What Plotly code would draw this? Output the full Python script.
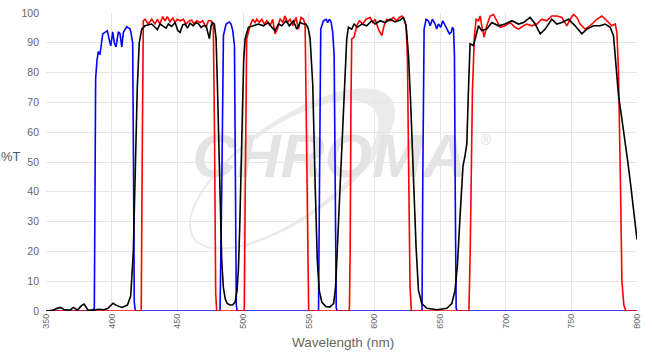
import numpy as np
import plotly.graph_objects as go

# ---------------- data ----------------
blue_wl = [350, 385, 386.8, 387.8, 388.8, 389.8, 391.1, 393.2, 394.9, 396.7, 398.2, 399.3, 400.8, 402, 403.3,
           405.1, 406.4, 407.7, 408.9, 410.5, 411.5, 412.7, 414, 414.7, 416, 416.6, 417.2, 418,
           482.5, 483.8, 485.1, 487.1, 489.6, 490.9, 492.2, 493.5, 494.2, 494.9, 495.6,
           557.5, 558.2, 559.2, 561.2, 563.3, 564.5, 565.8, 567.1, 568.3, 569.4, 570.1, 571, 571.7,
           636.3, 636.9, 637.9, 639.4, 641.2, 642.5, 644.2, 646.3, 647.5, 648.8, 650.6, 652.1, 653.9, 655.7,
           657.2, 658.5, 659.5, 660.3, 661, 661.6, 662.3, 663, 800]
blue_t = [0, 0, 1, 78, 84, 87, 86, 93, 93.5, 94, 91, 89, 93.7, 90, 88.6,
          93.7, 93, 88.6, 93.5, 95, 95.4, 95, 94.7, 93.4, 90, 50, 3, 0,
          0, 40, 92.4, 96.3, 97, 96.3, 94.1, 89, 55, 2, 0,
          0, 40, 94.6, 97.4, 97.9, 96.8, 97.9, 97, 93.5, 85.9, 50, 1, 0,
          0, 45, 94.6, 97.9, 97.4, 95.7, 97.9, 96.3, 94.6, 96.3, 95.2, 97.4, 95.7, 94.1,
          93, 93.5, 95.2, 94.6, 85.9, 40, 1, 0, 0]

red_wl = [350, 422.5, 423.4, 424.1, 425.4, 427.9, 430.5, 433, 434.8, 436.8, 438.9, 440.6, 442.4, 444.4, 446.5,
          448.3, 450, 452.1, 454.6, 456.6, 459.2, 460.9, 462.7, 464.8, 467.3, 469.3, 471.9, 473.6, 475.7, 477.4,
          478.3, 479.2, 480,
          501, 501.7, 502.3, 502.8, 505.4, 507.4, 509.2, 510.5, 512.5, 514.3, 516.3, 518.1, 520.6, 522.6, 524.4,
          526.2, 528.2, 530.3, 532, 533.8, 535.8, 537.9, 540.4, 542.2, 544.2, 546, 547.3, 548.5, 549.3, 550,
          581, 581.6, 582.2, 582.8, 584.6, 586.6, 588.6, 591.2, 593.7, 596.8, 598.8, 600.6, 603.1, 605.7, 607.4,
          609.5, 612, 614.5, 617.1, 619.1, 620.9, 622.7, 624.2, 625.2, 626.2, 627.2, 628.2,
          672, 673, 674.2, 674.7, 676.2, 677.5, 679.3, 680.6, 681.8, 683.6, 685.6, 688.2, 690.7, 693.3, 695.8,
          699.6, 703.4, 707.2, 709.8, 713.6, 716.1, 719.9, 723.7, 727.5, 731.3, 735.1, 739, 742.8, 746.6, 749.1,
          751.7, 754.2, 756.7, 760.5, 764.3, 769.4, 773.2, 777.1, 780.8, 783.4, 784.7, 785.9, 786.7, 787.4,
          788.5, 790, 791.5, 800]
red_t = [0, 0, 60, 97.4, 97.9, 96.3, 97.9, 96.3, 97.9, 96.3, 98.8, 97.4, 98.8, 97, 98.3,
         96.8, 97.9, 97.4, 97.9, 96.3, 97.4, 97.6, 96.3, 97.4, 96.8, 97.4, 95.2, 97.4, 97.4, 95.7,
         60, 6, 0,
         0, 40, 85, 91.3, 95.7, 97.9, 96.8, 97.9, 96.8, 97.9, 96.3, 97.4, 95.7, 97.9, 93,
         94.6, 98.1, 96.8, 99, 96.8, 97.9, 95.7, 98.5, 94.6, 98.5, 97.9, 96.3, 50, 5, 0,
         0, 20, 70, 91.3, 91.9, 95.7, 97.4, 96.3, 97.9, 98.5, 96.8, 97.9, 94.6, 92.4, 95.7,
         97.9, 97.4, 98.5, 97.4, 98.5, 99, 97.9, 95.7, 85, 45, 8, 0,
         0, 20, 62.8, 73.8, 92.4, 97.9, 97.4, 99, 95.7, 91.9, 95.7, 99, 99.5, 97.4, 95.2,
         95.7, 96.8, 95.2, 94.6, 95.7, 96.3, 95.7, 96.3, 97.9, 97.4, 99, 99, 98.5, 95.7, 97.9,
         99.5, 98.5, 96.3, 94.6, 95.7, 97.9, 99, 97.4, 95.7, 96.3, 93.5, 80.4, 62.8, 43,
         10, 2, 0, 0]

black_wl = [350, 355, 358, 361, 364, 368, 371, 374, 377, 379, 382, 386, 390, 394, 397, 401, 404, 408, 412,
            414.5, 416.5, 418, 419.5, 421, 422.9, 425.4, 427.9, 430.5, 433, 434.8, 436.8, 438.9, 441.4, 443.2,
            445.7, 448.3, 450.3, 452.1, 454.1, 455.9, 457.7, 459.7, 462.2, 464.2, 466.3, 468.1, 469.8, 471.9,
            473.1, 474.4, 475.7, 476.9, 478.2, 479.5,
            480.5, 481.5, 482.5, 483.8, 485, 486.5, 488, 490, 492, 494, 495.5, 496.5, 497.5, 498.5, 499.5, 500.5,
            501.6, 504.1, 507.9, 511.7, 515.5, 519.3, 521.9, 524.4, 527, 529.5, 532.8, 535.3, 538.4, 540.9,
            543.5, 546, 548, 549.8, 551.1, 552.1, 553.1, 554.9, 556.6, 558, 560, 563, 566, 569, 570.5, 571.4,
            574, 577.7, 579, 580.3, 582.8, 584.6, 587.1, 590.4, 594.2, 598, 600.6, 604.4, 608.2, 612, 615.8,
            619.6, 622.2, 624.2, 626, 627.7, 629.8, 631.8, 633.6, 636.1, 640, 647.6, 655.2, 659, 661.5, 663.3,
            665.3, 666.6, 667.5, 669, 670.4, 671.5, 672.5, 672.9, 675.5, 677.5, 679.3, 681.8, 685.6, 689.5,
            694.5, 699.6, 704.7, 709.8, 713.6, 718.6, 722.5, 726.3, 730.1, 735.1, 739, 742.8, 747.8, 752.9,
            758, 761.8, 766.9, 771.9, 775.8, 779.6, 782.1, 784.1, 786, 788, 790, 793, 795, 797.5, 800]
black_t = [0, 0.2, 0.8, 1.2, 0.4, 0.3, 1.2, 0.3, 1.8, 2.3, 0.3, 0.3, 0.6, 0.4, 0.8, 2.6, 1.8, 1.2, 2.0,
           5, 20, 45, 75, 90, 94.6, 95.7, 96, 96.3, 95.2, 94.4, 96.3, 95.7, 94.9, 96.3,
           95.5, 96.8, 94.1, 93.5, 96, 96.3, 94.9, 96.6, 95.7, 96.8, 96.3, 95.2, 95.7, 95.7,
           93.5, 91.4, 95.7, 96.8, 96.3, 91.4,
           76, 55, 36, 17, 8, 4, 2.5, 2, 2, 3, 7, 14, 28, 48, 68, 84,
           91.3, 95.2, 95.7, 96.3, 95.7, 96.8, 95.2, 94.1, 96.3, 95.7, 97.4, 95.7, 97.4, 94.6,
           96.8, 96.3, 96.3, 94.6, 91.4, 85, 76, 43, 16.8, 7, 3, 1.5, 1.3, 2.5, 8, 16.8,
           43, 76, 91.4, 95.2, 94.6, 96.3, 95.2, 96.3, 95.7, 97.4, 96.3, 97.4, 96.8, 97.9, 97,
           97.6, 98.5, 95.7, 85.9, 69.4, 43, 21.2, 7, 2.5, 0.9, 0.4, 0.9, 2.5, 7, 15.7,
           32, 43, 48.6, 52, 56, 72, 87, 89.7, 89.1, 92.4, 95.7, 94.1, 94.6, 96.8,
           95.7, 96.3, 97.4, 96.3, 96.8, 98.5, 96.3, 93, 94.6, 97.9, 96.3, 96.8, 97.9, 95.7,
           93, 94.6, 95.7, 95.7, 96.3, 95.2, 92.4, 82, 72, 66, 60, 50, 43, 34, 24]

x_ticks = [350, 400, 450, 500, 550, 600, 650, 700, 750, 800]
y_ticks = [0, 10, 20, 30, 40, 50, 60, 70, 80, 90, 100]

FONT = "Liberation Sans, Arial, sans-serif"

fig = go.Figure()

# watermark text (drawn first so it sits behind the curves)
fig.add_trace(go.Scatter(x=[566], y=[50], mode="text", text=["CHROMA"], hoverinfo="skip",
                         showlegend=False,
                         textfont=dict(family=FONT, size=61, color="#e4e4e4",
                                       weight="bold", style="italic")))
fig.add_trace(go.Scatter(x=[685], y=[57], mode="text", text=["®"], hoverinfo="skip",
                         showlegend=False,
                         textfont=dict(family=FONT, size=14, color="#e0e0e0")))

for wl, t, c in [(blue_wl, blue_t, "#0000ff"), (red_wl, red_t, "#ff0000"), (black_wl, black_t, "#000000")]:
    fig.add_trace(go.Scatter(x=wl, y=t, mode="lines",
                             line=dict(color=c, width=1.6),
                             showlegend=False))

# swoosh ellipse of the watermark (decoration, paper coordinates)
L, R, T, B = 46, 637, 7, 311
def to_paper(px, py):
    return (px - L) / (R - L), (B - py) / (B - T)
def ellipse(cx, cy, a, b, th, n=90):
    tt = np.linspace(0, 2 * np.pi, n, endpoint=False)
    c, s = np.cos(th), np.sin(th)
    pts = []
    for t_ in tt:
        ex, ey = a * np.cos(t_), b * np.sin(t_)
        px = cx + ex * c - ey * s
        py = cy - (ex * s + ey * c)
        pts.append(to_paper(px, py))
    return "M" + "L".join(f"{x:.4f},{y:.4f}" for x, y in pts) + "Z"
th = np.deg2rad(36)
outer = ellipse(292, 166, 122, 50, th)
inner = ellipse(292 - 9 * np.cos(th), 166 + 9 * np.sin(th), 111, 46, th)
fig.add_shape(type="path", path=outer + " " + inner, xref="paper", yref="paper",
              fillcolor="#ebebeb", line=dict(width=0), layer="below", fillrule="evenodd")

fig.update_layout(
    width=652, height=354,
    margin=dict(l=46, r=15, t=7, b=43),
    paper_bgcolor="white", plot_bgcolor="white",
    font=dict(family=FONT, color="#666666"),
    showlegend=False,
    xaxis=dict(range=[350, 800], tickvals=x_ticks, ticktext=[str(v) for v in x_ticks],
               tickangle=-90, tickfont=dict(size=9, color="#666666"),
               showgrid=True, gridcolor="#e6e6e6", gridwidth=1, zeroline=False,
               showline=False, ticks="", layer="below traces"),
    yaxis=dict(range=[0, 100], tickvals=y_ticks, tickfont=dict(size=10.5, color="#666666"),
               showgrid=True, gridcolor="#e6e6e6", gridwidth=1, zeroline=False,
               showline=False, ticks="", ticklabelstandoff=6),
    annotations=[
        dict(text="%T", xref="paper", yref="paper", x=-0.059, y=0.52, showarrow=False,
             font=dict(size=13, color="#4d5a6b", family=FONT), xanchor="center", yanchor="middle"),
        dict(text="Wavelength (nm)", xref="paper", yref="paper", x=0.502, y=-0.105, showarrow=False,
             font=dict(size=13.5, color="#666666", family=FONT), xanchor="center", yanchor="middle"),
    ],
)

fig.write_html("out.html")
